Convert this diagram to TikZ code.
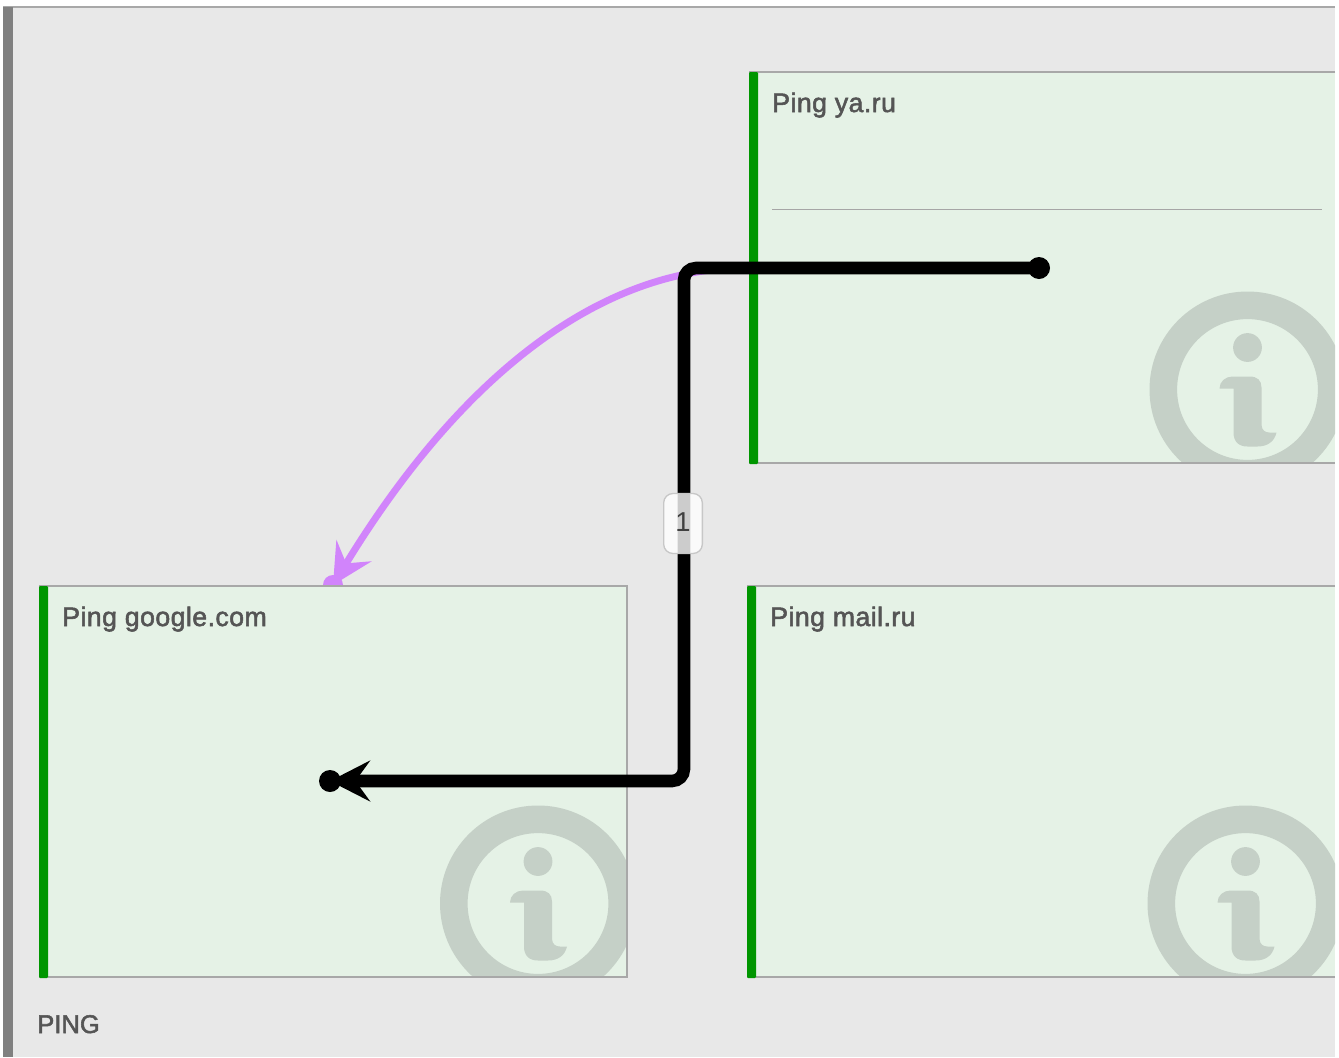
\documentclass[tikz,border=0pt]{standalone}
\usepackage{fontspec}
\setmainfont{Liberation Sans}
\newfontfamily\cardfont[LetterSpace=1.7]{Liberation Sans}
\newcommand{\heavytext}[1]{\special{pdf:code 2 Tr 0.4 w}#1\special{pdf:code 0 Tr 1 w}}
\usetikzlibrary{arrows.meta}
\definecolor{panelbg}{HTML}{E8E8E8}
\definecolor{sidebar}{HTML}{808080}
\definecolor{topline}{HTML}{A8A8A8}
\definecolor{cardbg}{HTML}{E5F2E6}
\definecolor{cardline}{HTML}{A8A8A8}
\definecolor{cardbar}{HTML}{009600}
\definecolor{iconcol}{HTML}{C5D0C7}
\definecolor{cardtext}{HTML}{555555}
\definecolor{purplelink}{HTML}{D184FB}
\tikzset{
  x=0.75pt,y=-0.75pt,
  card/.style={fill=cardbg,rectangle,anchor=north west,inner sep=0pt,outer sep=0pt,minimum width=#1*0.75pt,minimum height=391*0.75pt},
  cardedge/.style={draw=cardline,line width=1pt},
  bar/.style={fill=cardbar,draw=none,rounded corners=0.8pt},
  title/.style={anchor=base west,inner sep=0pt,text=cardtext,font=\cardfont\fontsize{20}{24}\selectfont},
  blackdot/.style={circle,fill=black,inner sep=0pt,minimum size=16.5pt},
  purpledot/.style={circle,fill=purplelink,inner sep=0pt,minimum size=15pt},
  blacklink/.style={draw=black,line width=9.4pt,rounded corners=9pt,-{Stealth[length=30pt,width=30.5pt,inset=11pt]}},
  purplelinkst/.style={draw=purplelink,line width=5.2pt,-{Stealth[length=30pt,width=30.5pt,inset=11pt]}},
  badge/.style={rounded corners=7pt,draw=black!22,line width=1pt,fill=white,fill opacity=0.8,text opacity=1,minimum width=29pt,minimum height=45pt,inner sep=0pt}
}
\newcommand{\infoicon}[2]{%
  \begin{scope}[shift={(#1,#2)}]
    \fill[iconcol,even odd rule] (0,0) circle[radius=73.5pt] (0,0) circle[radius=52.8pt];
    \fill[iconcol] (0,-42) circle[radius=10.8pt];
    \fill[iconcol] (-28,-1) .. controls (-28,-8) and (-22,-13) .. (-15,-13) -- (2,-13) .. controls (10,-13) and (14,-9) .. (14,-2) -- (14,35) .. controls (14,41) and (18,43) .. (22,43) -- (29,43) .. controls (27,52) and (20,57) .. (10,57) -- (0,57) .. controls (-9,57) and (-14,52) .. (-14,43) -- (-14,-1) -- cycle;
  \end{scope}}
\begin{document}
\begin{tikzpicture}
\useasboundingbox (0,0) rectangle (1339,1057);
\fill[white] (0,0) rectangle (1339,1057);
\fill[panelbg] (3,7) rectangle (1335,1057);
\fill[topline] (3,6) rectangle (1335,8);
\fill[sidebar] (3,7) rectangle (13,1057);
% purple link, underneath the cards
\coordinate (ps) at (752,268);
\node[purpledot] (pd) at (333,585) {};
\draw[purplelinkst] (ps) .. controls (595,265) and (455,385) .. (pd.center);
% cards
\node[card=586] (c1) at (749,72) {};
\node[card=588] (c2) at (39,586) {};
\node[card=588] (c3) at (747,586) {};
\begin{scope}\clip (749,72) rectangle (1335,463); \infoicon{1247.5}{389.5} \end{scope}
\begin{scope}\clip (39,586) rectangle (627,977); \infoicon{538}{903.5} \end{scope}
\begin{scope}\clip (747,586) rectangle (1335,977); \infoicon{1245.5}{903.5} \end{scope}
\draw[cardedge] (c1.north east) -- (c1.north west) (c1.south west) -- (c1.south east);
\draw[cardedge] (c2.north west) -- (c2.north east) -- (c2.south east) -- (c2.south west);
\draw[cardedge] (c3.north east) -- (c3.north west) (c3.south west) -- (c3.south east);
\fill[bar] (749,72) rectangle (758,464);
\fill[bar] (39,586) rectangle (48,978);
\fill[bar] (747,586) rectangle (756,978);
\node[title] (t1) at (772,112) {\heavytext{Ping ya.ru}};
\node[title] (t2) at (62,626) {\heavytext{Ping google.com}};
\node[title] (t3) at (770,626) {\heavytext{Ping mail.ru}};
\draw[black!35,line width=0.9pt] (772,209.5) -- (1322,209.5);
% black link
\node[blackdot] (a) at (1039,268) {};
\node[blackdot] (b) at (330,781) {};
\coordinate (k1) at (684,268);
\coordinate (k2) at (684,781);
\draw[blacklink] (a.center) -- (k1) -- (k2) -- (b.center);
\node[badge] (lab) at (683,523.5) {};
\node[inner sep=0pt,text=black!75,font=\fontsize{20.5}{24}\selectfont] (labtext) at (683,522) {1};
\node[anchor=base west,inner sep=0pt,text=cardtext,font=\fontsize{19.2}{24}\selectfont] (ping) at (37,1033) {\heavytext{PING}};
\end{tikzpicture}
\end{document}
